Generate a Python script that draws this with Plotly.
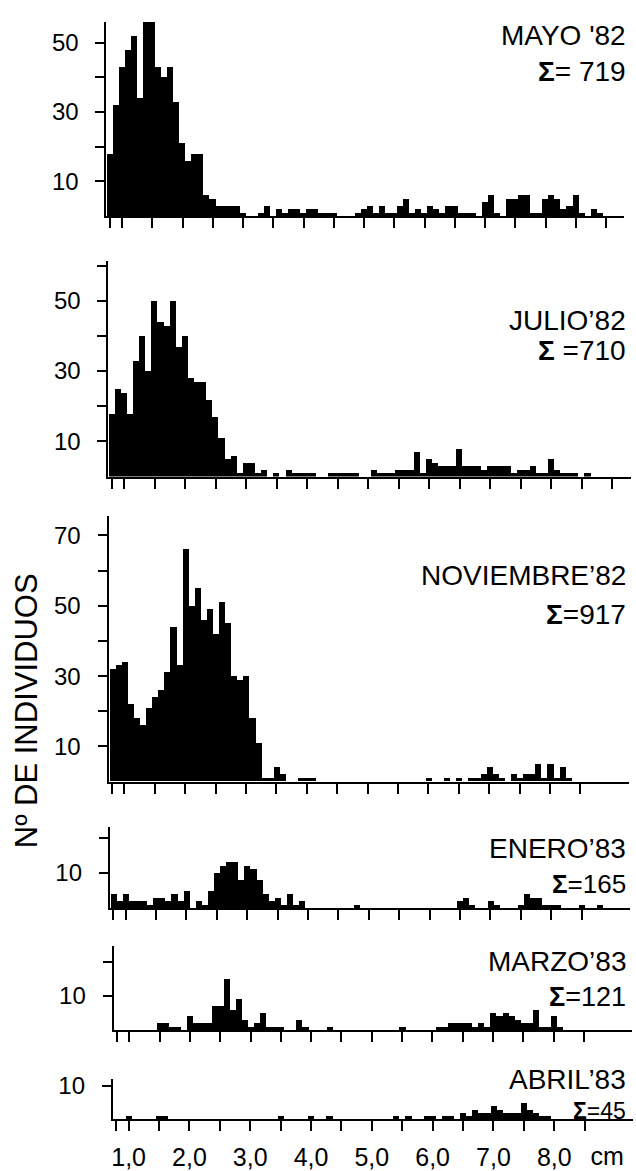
import plotly.graph_objects as go

W, H = 636, 1171

# bin centres (cm)
bins = [0.8, 0.9, 1.0, 1.1, 1.2, 1.3, 1.4, 1.5, 1.6, 1.7,
        1.8, 1.9, 2.0, 2.1, 2.2, 2.3, 2.4, 2.5, 2.6, 2.7,
        2.8, 2.9, 3.0, 3.1, 3.2, 3.3, 3.4, 3.5, 3.6, 3.7,
        3.8, 3.9, 4.0, 4.1, 4.2, 4.3, 4.4, 4.5, 4.6, 4.7,
        4.8, 4.9, 5.0, 5.1, 5.2, 5.3, 5.4, 5.5, 5.6, 5.7,
        5.8, 5.9, 6.0, 6.1, 6.2, 6.3, 6.4, 6.5, 6.6, 6.7,
        6.8, 6.9, 7.0, 7.1, 7.2, 7.3, 7.4, 7.5, 7.6, 7.7,
        7.8, 7.9, 8.0, 8.1, 8.2, 8.3, 8.4, 8.5, 8.6, 8.7,
        8.8, 8.9, 9.0]

mayo_82 = [18, 32, 43, 48, 52, 34, 56, 56, 43, 40,
           43, 33, 21, 16, 18, 18, 6, 5, 3, 3,
           3, 3, 1, 0, 0, 1, 3, 0, 2, 1,
           2, 2, 1, 2, 2, 1, 1, 1, 0, 0,
           0, 1, 2, 3, 1, 3, 1, 1, 3, 5,
           1, 2, 1, 3, 2, 1, 3, 3, 1, 1,
           1, 0, 4, 6, 1, 0, 5, 5, 6, 6,
           1, 1, 5, 6, 5, 2, 3, 6, 1, 0,
           2, 1, 0]

julio_82 = [18, 25, 24, 18, 33, 40, 30, 50, 44, 43,
            50, 37, 40, 28, 27, 27, 22, 17, 11, 5,
            6, 1, 4, 4, 1, 2, 0, 1, 0, 2,
            1, 1, 1, 1, 0, 0, 1, 1, 1, 1,
            1, 0, 0, 2, 1, 1, 1, 2, 2, 2,
            7, 1, 5, 4, 3, 3, 3, 8, 3, 3,
            3, 2, 3, 3, 3, 3, 1, 2, 2, 3,
            1, 1, 5, 2, 1, 1, 1, 0, 1, 0,
            0, 0, 0]

noviembre_82 = [32, 33, 34, 22, 18, 16, 21, 24, 26, 31,
                44, 33, 66, 50, 55, 46, 49, 42, 51, 45,
                30, 29, 30, 18, 11, 1, 1, 4, 2, 0,
                0, 1, 1, 1, 0, 0, 0, 0, 0, 0,
                0, 0, 0, 0, 0, 0, 0, 0, 0, 0,
                0, 0, 1, 0, 0, 1, 0, 1, 0, 1,
                1, 2, 4, 2, 1, 0, 2, 1, 2, 2,
                5, 1, 5, 1, 4, 1, 0, 0, 0, 0,
                0, 0, 0]

enero_83 = [4, 2, 4, 2, 2, 2, 1, 3, 3, 2,
            4, 2, 5, 0, 2, 1, 5, 10, 12, 13,
            13, 8, 12, 11, 8, 4, 2, 3, 1, 4,
            1, 2, 0, 0, 0, 0, 0, 0, 0, 0,
            1, 0, 0, 0, 0, 0, 0, 0, 0, 0,
            0, 0, 0, 0, 0, 0, 0, 2, 3, 1,
            0, 0, 2, 1, 0, 0, 0, 1, 4, 3,
            3, 1, 1, 1, 0, 0, 0, 1, 0, 0,
            1, 0, 0]

marzo_83 = [0, 0, 0, 0, 0, 0, 0, 2, 2, 1,
            1, 0, 4, 2, 2, 2, 7, 7, 15, 6,
            9, 3, 1, 2, 5, 1, 1, 1, 0, 0,
            3, 1, 0, 0, 0, 1, 0, 0, 0, 0,
            0, 0, 0, 0, 0, 0, 0, 1, 0, 0,
            0, 0, 0, 1, 1, 2, 2, 2, 2, 1,
            2, 1, 5, 4, 5, 4, 3, 2, 2, 6,
            1, 1, 4, 1, 0, 0, 0, 0, 0, 0,
            0, 0, 0]

abril_83 = [0, 0, 1, 0, 0, 0, 0, 1, 1, 0,
            0, 0, 0, 0, 0, 0, 0, 0, 0, 0,
            0, 0, 0, 0, 0, 0, 0, 1, 0, 0,
            0, 0, 1, 0, 0, 1, 0, 0, 0, 0,
            0, 0, 0, 0, 0, 0, 1, 0, 1, 0,
            0, 1, 1, 0, 1, 1, 0, 2, 1, 3,
            2, 2, 4, 3, 2, 2, 2, 5, 3, 2,
            1, 1, 0, 0, 0, 0, 0, 0, 0, 0,
            0, 0, 0]

titles = ["MAYO '82", "JULIO’82", "NOVIEMBRE’82", "ENERO’83", "MARZO’83", "ABRIL’83"]
totals = ["= 719", " =710", "=917", "=165", "=121", "=45"]
series = [mayo_82, julio_82, noviembre_82, enero_83, marzo_83, abril_83]

y_tickvals = [[10, 20, 30, 40, 50],
              [10, 20, 30, 40, 50, 60],
              [10, 20, 30, 40, 50, 60, 70],
              [10, 20],
              [10, 20],
              [10]]
y_ticktext = [["10", "", "30", "", "50"],
              ["10", "", "30", "", "50", ""],
              ["10", "", "30", "", "50", "", "70"],
              ["10", ""],
              ["10", ""],
              ["10"]]

x_ticks_long = [0.8, 1.0, 1.5, 2.0, 2.5, 3.0, 3.5, 4.0, 4.5, 5.0, 5.5, 6.0,
                6.5, 7.0, 7.5, 8.0, 8.5, 9.0]
x_ticks_short = x_ticks_long[:-1]
x_label_map = {1.0: "1,0", 2.0: "2,0", 3.0: "3,0", 4.0: "4,0",
               5.0: "5,0", 6.0: "6,0", 7.0: "7,0", 8.0: "8,0"}
unit_pos = 8.87
unit_label = "cm"

# layout geometry (pixels) of each panel
p_top = [15, 256, 514, 828, 948, 1082]
p_base = [211, 474, 782, 910, 1033, 1123]
p_pxunit = [3.5, 3.55, 3.55, 3.57, 3.47, 3.4]
p_x1 = [120.5, 122.7, 122.7, 124, 127.7, 127]   # pixel position of 1.0 cm
p_pxcm = [60.7, 61.2, 61.0, 61.0, 60.8, 61.0]
title_y = [29, 316, 574, 849, 964, 1083]
total_y = [65, 347, 613, 885, 999, 1114]
total_size = [28, 28, 28, 26, 27, 23]

XMIN, XMAX = 0.74, 9.3
FONT = "Liberation Sans, Arial, sans-serif"

fig = go.Figure()
layout = dict(width=W, height=H, margin=dict(l=0, r=0, t=0, b=0),
              paper_bgcolor="white", plot_bgcolor="white",
              showlegend=False, bargap=0,
              font=dict(family=FONT, size=24, color="black"))
annotations = []
STANDOFF_X = 5

for k in range(6):
    n = k + 1
    xs = "x" if n == 1 else f"x{n}"
    ys = "y" if n == 1 else f"y{n}"
    fig.add_trace(go.Bar(x=bins, y=series[k], width=0.1, xaxis=xs, yaxis=ys,
                         marker=dict(color="black", line=dict(width=0)),
                         hoverinfo="skip"))
    left = p_x1[k] + (XMIN - 1.0) * p_pxcm[k]
    right = p_x1[k] + (XMAX - 1.0) * p_pxcm[k]
    ymax = (p_base[k] - p_top[k]) / p_pxunit[k]
    tv = x_ticks_long if k < 2 else x_ticks_short
    if k == 5:
        tt = [x_label_map.get(v, "") for v in tv]
    else:
        tt = ["" for v in tv]
    xa = dict(domain=[left / W, right / W], range=[XMIN, XMAX],
              anchor=ys, showline=True, linecolor="black", linewidth=2,
              ticks="outside", ticklen=10, tickwidth=2, tickcolor="black",
              tickvals=tv, ticktext=tt, showgrid=False, zeroline=False,
              tickfont=dict(family=FONT, size=25, color="black"),
              ticklabelstandoff=STANDOFF_X, fixedrange=True)
    ya = dict(domain=[1 - p_base[k] / H, 1 - p_top[k] / H], range=[0, ymax],
              anchor=xs, showline=True, linecolor="black", linewidth=2,
              ticks="outside", ticklen=9, tickwidth=2, tickcolor="black",
              tickvals=y_tickvals[k], ticktext=y_ticktext[k],
              showgrid=False, zeroline=False,
              tickfont=dict(family=FONT, size=24, color="black"),
              ticklabelstandoff=12, fixedrange=True)
    layout["xaxis" if n == 1 else f"xaxis{n}"] = xa
    layout["yaxis" if n == 1 else f"yaxis{n}"] = ya

    annotations.append(dict(text=titles[k], xref="paper", yref="paper",
                            x=628 / W, y=1 - title_y[k] / H, xanchor="right",
                            yanchor="middle", showarrow=False,
                            font=dict(family=FONT, size=28, color="black")))
    annotations.append(dict(text="<b>Σ</b>" + totals[k], xref="paper", yref="paper",
                            x=628 / W, y=1 - total_y[k] / H, xanchor="right",
                            yanchor="middle", showarrow=False,
                            font=dict(family=FONT, size=total_size[k], color="black")))

# overlay axis on the bottom panel that carries only the unit label "cm",
# configured like the bottom axis (invisible tick) so baselines match
fig.add_trace(go.Bar(x=[unit_pos], y=[0], width=0.1, xaxis="x7", yaxis="y6",
                     marker=dict(color="black", line=dict(width=0)),
                     hoverinfo="skip"))
x6 = layout["xaxis6"]
layout["xaxis7"] = dict(domain=x6["domain"], range=[XMIN, XMAX], anchor="y6",
                        overlaying="x6", side="bottom", showline=False,
                        ticks="outside", ticklen=10, tickwidth=2,
                        tickcolor="rgba(0,0,0,0)",
                        tickvals=[unit_pos], ticktext=[unit_label],
                        showgrid=False, zeroline=False,
                        tickfont=dict(family=FONT, size=25, color="black"),
                        ticklabelstandoff=STANDOFF_X, fixedrange=True)

annotations.append(dict(text="Nº DE INDIVIDUOS", xref="paper", yref="paper",
                        x=24 / W, y=1 - 710 / H, xanchor="center", yanchor="middle",
                        textangle=-90, showarrow=False,
                        font=dict(family=FONT, size=31, color="black")))
layout["annotations"] = annotations
fig.update_layout(**layout)
fig.write_html("out.html", config={"displayModeBar": False},
               post_script="document.body.style.margin='0px';document.body.style.overflow='hidden';")
